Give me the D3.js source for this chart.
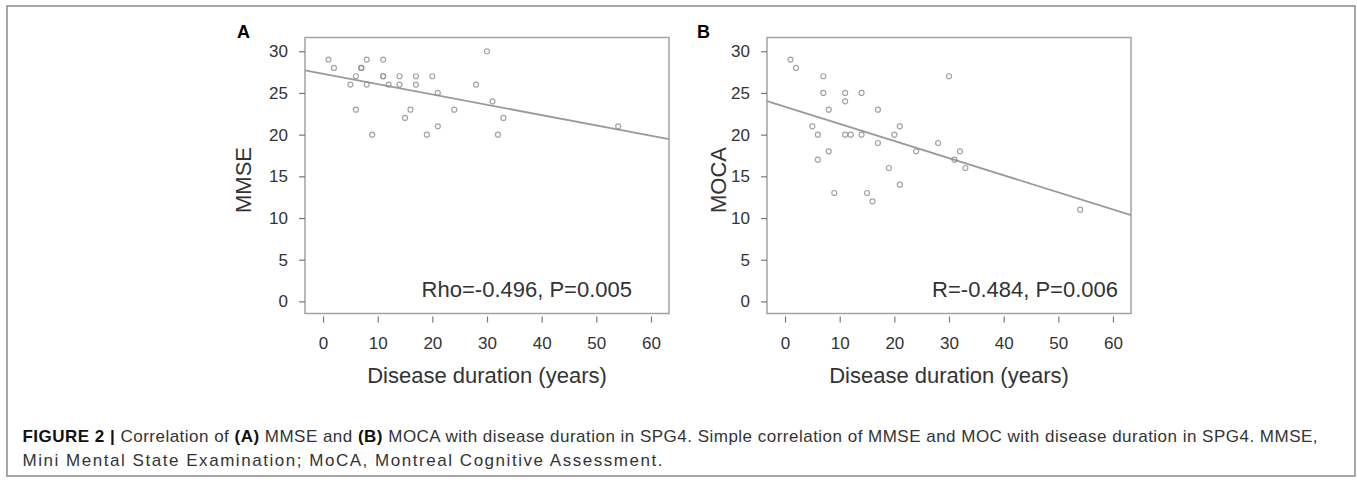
<!DOCTYPE html>
<html>
<head>
<meta charset="utf-8">
<script src="https://cdn.jsdelivr.net/npm/d3@7"></script>
<style>
  html, body { margin: 0; padding: 0; background: #fff; }
  svg { display: block; font-family: "Liberation Sans", Arial, sans-serif; }
</style>
</head>
<body>
<div id="chart"></div>
<script>
// values (disease duration in years vs score)
const durationA = [1, 2, 5, 6, 6, 7, 7, 8, 8, 9, 11, 11, 11, 12, 14, 14, 15, 16, 17, 17, 19, 20, 21, 21, 24, 28, 30, 31, 32, 33, 54];
const mmse      = [29, 28, 26, 27, 23, 28, 28, 29, 26, 20, 29, 27, 27, 26, 27, 26, 22, 23, 27, 26, 20, 27, 25, 21, 23, 26, 30, 24, 20, 22, 21];

const durationB = [1, 2, 5, 6, 6, 7, 7, 8, 8, 9, 11, 11, 11, 12, 14, 14, 15, 16, 17, 17, 19, 20, 21, 21, 24, 28, 30, 31, 32, 33, 54];
const moca      = [29, 28, 21, 20, 17, 27, 25, 23, 18, 13, 25, 24, 20, 20, 25, 20, 13, 12, 23, 19, 16, 20, 21, 14, 18, 19, 27, 17, 18, 16, 11];

const xTicks = [0, 10, 20, 30, 40, 50, 60];
const yTicks = [0, 5, 10, 15, 20, 25, 30];

const panelLetters = ["A", "B"];
const yTitles = ["MMSE", "MOCA"];
const statLabels = ["Rho=-0.496, P=0.005", "R=-0.484, P=0.006"];
const xTitle = "Disease duration (years)";

const panels = [
  { x: durationA, y: mmse, left: 305, right: 669, letterX: 237, titleX: 243, statX: 632 },
  { x: durationB, y: moca, left: 767, right: 1131, letterX: 697, titleX: 718, statX: 1118 }
];

const width = 1357, height = 480;
const plotTop = 37.5, plotBottom = 313.5;

const svg = d3.select("#chart").append("svg")
  .attr("width", width)
  .attr("height", height);

// outer frame
svg.append("rect")
  .attr("x", 7).attr("y", 6)
  .attr("width", 1348).attr("height", 470)
  .attr("fill", "none")
  .attr("stroke", "#8a8a8a")
  .attr("stroke-width", 1.5);

panels.forEach((p, i) => {
  const x = d3.scaleLinear().domain([-3.3, 63.3]).range([p.left, p.right]);
  const y = d3.scaleLinear().domain([-1.45, 31.65]).range([plotBottom, plotTop]);
  const g = svg.append("g");

  // plot box
  g.append("rect")
    .attr("x", p.left).attr("y", plotTop)
    .attr("width", p.right - p.left).attr("height", plotBottom - plotTop)
    .attr("fill", "none")
    .attr("stroke", "#a3a3a3")
    .attr("stroke-width", 1.5);

  // x axis (ticks hang below the box)
  g.append("g")
    .attr("transform", `translate(0,${plotBottom + 3})`)
    .call(d3.axisBottom(x).tickValues(xTicks).tickSize(6).tickPadding(14))
    .call(a => a.select(".domain").remove())
    .call(a => a.selectAll(".tick line").attr("stroke", "#777").attr("stroke-width", 1.2))
    .call(a => a.selectAll(".tick text")
      .attr("fill", "#333").style("font-size", "17px").attr("font-family", "Liberation Sans, Arial"));

  // y axis
  g.append("g")
    .attr("transform", `translate(${p.left},0)`)
    .call(d3.axisLeft(y).tickValues(yTicks).tickSize(6).tickPadding(11))
    .call(a => a.select(".domain").remove())
    .call(a => a.selectAll(".tick line").attr("stroke", "#777").attr("stroke-width", 1.2))
    .call(a => a.selectAll(".tick text")
      .attr("fill", "#333").style("font-size", "17px").attr("font-family", "Liberation Sans, Arial"));

  // least squares fit line
  const mx = d3.mean(p.x), my = d3.mean(p.y);
  const sxy = d3.sum(p.x, (v, k) => (v - mx) * (p.y[k] - my));
  const sxx = d3.sum(p.x, v => (v - mx) * (v - mx));
  const slope = sxy / sxx, icept = my - slope * mx;
  const [d0, d1] = x.domain();
  g.append("line")
    .attr("x1", x(d0)).attr("y1", y(icept + slope * d0))
    .attr("x2", x(d1)).attr("y2", y(icept + slope * d1))
    .attr("stroke", "#9a9a9a")
    .attr("stroke-width", 1.8);

  // points
  g.append("g")
    .selectAll("circle")
    .data(d3.range(p.x.length))
    .join("circle")
    .attr("cx", k => x(p.x[k]))
    .attr("cy", k => y(p.y[k]))
    .attr("r", 2.5)
    .attr("fill", "none")
    .attr("stroke", "#8c8c8c")
    .attr("stroke-opacity", 0.8)
    .attr("stroke-width", 1.2);

  // stats text
  g.append("text")
    .attr("x", p.statX).attr("y", 296.5)
    .attr("text-anchor", "end")
    .attr("fill", "#333")
    .style("font-size", "22px")
    .text(statLabels[i]);

  // titles
  g.append("text")
    .attr("x", (p.left + p.right) / 2).attr("y", 383)
    .attr("text-anchor", "middle")
    .attr("fill", "#333")
    .style("font-size", "22px")
    .text(xTitle);

  g.append("text")
    .attr("transform", `translate(${p.titleX + 8},180) rotate(-90)`)
    .attr("text-anchor", "middle")
    .attr("fill", "#333")
    .style("font-size", "22px")
    .text(yTitles[i]);

  g.append("text")
    .attr("x", p.letterX).attr("y", 37.5)
    .attr("fill", "#000")
    .style("font-size", "18px")
    .style("font-weight", "bold")
    .text(panelLetters[i]);
});

// caption
const caption1 = [
  ["FIGURE 2 | ", true], ["Correlation of ", false], ["(A)", true], [" MMSE and ", false],
  ["(B)", true], [" MOCA with disease duration in SPG4. Simple correlation of MMSE and MOC with disease duration in SPG4. MMSE,", false]
];
const caption2 = "Mini Mental State Examination; MoCA, Montreal Cognitive Assessment.";

const cap1 = svg.append("text")
  .attr("x", 22.5).attr("y", 442)
  .attr("fill", "#333")
  .style("font-size", "17px")
  .attr("textLength", 1295)
  .attr("lengthAdjust", "spacing");
cap1.selectAll("tspan")
  .data(caption1)
  .join("tspan")
  .style("font-weight", d => d[1] ? "bold" : "normal")
  .attr("fill", d => d[1] ? "#111" : "#333")
  .text(d => d[0]);

svg.append("text")
  .attr("x", 22.5).attr("y", 466)
  .attr("fill", "#333")
  .style("font-size", "17px")
  .attr("textLength", 640)
  .attr("lengthAdjust", "spacing")
  .text(caption2);
</script>
</body>
</html>
